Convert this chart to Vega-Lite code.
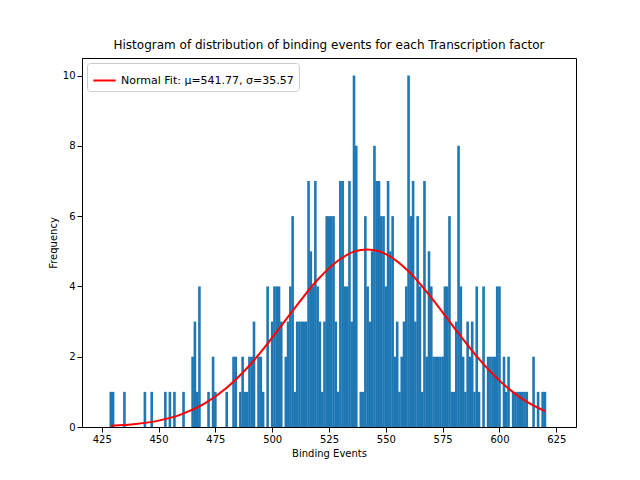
{
  "$schema": "https://vega.github.io/schema/vega-lite/v6.json",
  "title": {"text": "Histogram of distribution of binding events for each Transcription factor", "fontSize": 12, "fontWeight": "normal", "font": "DejaVu Sans", "offset": 6},
  "width": 494,
  "height": 369,
  "autosize": "none",
  "padding": {"left": 82, "top": 58, "right": 64, "bottom": 53},
  "datasets": {
    "hist": [
      {"x":429,"n":1},{"x":430,"n":1},{"x":435,"n":1},{"x":444,"n":1},{"x":447,"n":1},{"x":453,"n":1},{"x":455,"n":1},{"x":457,"n":1},{"x":461,"n":1},{"x":465,"n":2},{"x":466,"n":3},{"x":467,"n":1},{"x":468,"n":4},{"x":472,"n":1},{"x":474,"n":2},{"x":475,"n":1},{"x":480,"n":1},{"x":483,"n":2},{"x":484,"n":2},{"x":486,"n":1},{"x":487,"n":2},{"x":488,"n":1},{"x":489,"n":1},{"x":490,"n":2},{"x":491,"n":2},{"x":492,"n":3},{"x":494,"n":2},{"x":495,"n":2},{"x":496,"n":1},{"x":498,"n":4},{"x":500,"n":3},{"x":501,"n":4},{"x":502,"n":4},{"x":503,"n":4},{"x":504,"n":3},{"x":506,"n":2},{"x":507,"n":3},{"x":508,"n":4},{"x":509,"n":6},{"x":510,"n":1},{"x":511,"n":3},{"x":512,"n":3},{"x":513,"n":3},{"x":514,"n":3},{"x":515,"n":3},{"x":516,"n":7},{"x":517,"n":5},{"x":518,"n":4},{"x":519,"n":7},{"x":520,"n":4},{"x":521,"n":3},{"x":522,"n":1},{"x":523,"n":3},{"x":524,"n":6},{"x":525,"n":6},{"x":526,"n":6},{"x":527,"n":6},{"x":528,"n":3},{"x":529,"n":1},{"x":530,"n":7},{"x":531,"n":7},{"x":532,"n":4},{"x":533,"n":4},{"x":534,"n":7},{"x":535,"n":3},{"x":536,"n":10},{"x":537,"n":8},{"x":539,"n":1},{"x":540,"n":1},{"x":541,"n":6},{"x":542,"n":4},{"x":543,"n":3},{"x":544,"n":5},{"x":545,"n":8},{"x":546,"n":7},{"x":547,"n":7},{"x":548,"n":6},{"x":549,"n":6},{"x":550,"n":4},{"x":551,"n":7},{"x":552,"n":5},{"x":553,"n":6},{"x":554,"n":2},{"x":555,"n":3},{"x":556,"n":1},{"x":557,"n":2},{"x":558,"n":3},{"x":559,"n":4},{"x":560,"n":10},{"x":561,"n":6},{"x":562,"n":7},{"x":563,"n":3},{"x":564,"n":6},{"x":565,"n":4},{"x":566,"n":1},{"x":567,"n":7},{"x":568,"n":2},{"x":569,"n":5},{"x":570,"n":4},{"x":571,"n":2},{"x":572,"n":2},{"x":573,"n":2},{"x":574,"n":2},{"x":575,"n":2},{"x":576,"n":4},{"x":577,"n":4},{"x":578,"n":6},{"x":579,"n":1},{"x":580,"n":1},{"x":581,"n":3},{"x":582,"n":8},{"x":583,"n":4},{"x":584,"n":2},{"x":585,"n":1},{"x":586,"n":3},{"x":587,"n":2},{"x":588,"n":3},{"x":589,"n":1},{"x":590,"n":4},{"x":591,"n":1},{"x":593,"n":4},{"x":595,"n":2},{"x":596,"n":2},{"x":597,"n":2},{"x":598,"n":2},{"x":599,"n":4},{"x":600,"n":4},{"x":602,"n":2},{"x":603,"n":1},{"x":604,"n":2},{"x":606,"n":1},{"x":607,"n":1},{"x":608,"n":1},{"x":609,"n":1},{"x":610,"n":1},{"x":611,"n":1},{"x":612,"n":1},{"x":615,"n":2},{"x":617,"n":1},{"x":619,"n":1},{"x":620,"n":1}
    ],
    "fit": [
      {"x":429,"y":0.033},{"x":440,"y":0.084},{"x":450,"y":0.181},{"x":460,"y":0.36},{"x":470,"y":0.66},{"x":480,"y":1.12},{"x":490,"y":1.75},{"x":500,"y":2.54},{"x":510,"y":3.39},{"x":520,"y":4.19},{"x":530,"y":4.78},{"x":536,"y":4.99},{"x":541.77,"y":5.05},{"x":547,"y":5.0},{"x":550,"y":4.92},{"x":560,"y":4.43},{"x":570,"y":3.68},{"x":580,"y":2.83},{"x":590,"y":2.01},{"x":600,"y":1.32},{"x":610,"y":0.8},{"x":620,"y":0.45}
    ]
  },
  "layer": [
    {
      "data": {"name": "hist"},
      "mark": {"type": "bar", "size": 2.6, "color": "#1f77b4", "strokeWidth": 0},
      "encoding": {
        "x": {"field": "x", "type": "quantitative", "scale": {"domain": [418.53, 631.47], "nice": false, "zero": false},
              "axis": {"values": [425,450,475,500,525,550,575,600,625], "grid": false, "title": "Binding Events"}},
        "y": {"field": "n", "type": "quantitative", "scale": {"domain": [0, 10.5], "nice": false},
              "axis": {"values": [0,2,4,6,8,10], "grid": false, "title": "Frequency"}}
      }
    },
    {
      "data": {"name": "fit"},
      "transform": [{"calculate": "'Normal Fit: μ=541.77, σ=35.57'", "as": "s"}],
      "mark": {"type": "line", "strokeWidth": 2, "interpolate": "monotone"},
      "encoding": {
        "x": {"field": "x", "type": "quantitative"},
        "y": {"field": "y", "type": "quantitative"},
        "color": {"field": "s", "type": "nominal", "scale": {"range": ["red"]},
                  "legend": {"title": null, "orient": "top-left", "symbolType": "stroke", "symbolStrokeWidth": 2, "symbolSize": 500, "labelFontSize": 11, "labelLimit": 0, "strokeColor": "#cccccc", "fillColor": "white", "padding": 5, "cornerRadius": 3, "offset": 5}}
      }
    }
  ],
  "config": {
    "font": "DejaVu Sans",
    "view": {"stroke": "black"},
    "axis": {"labelFontSize": 10, "titleFontSize": 10, "titleFontWeight": "normal", "domainColor": "black", "tickColor": "black", "labelColor": "black", "titleColor": "black"}
  }
}
